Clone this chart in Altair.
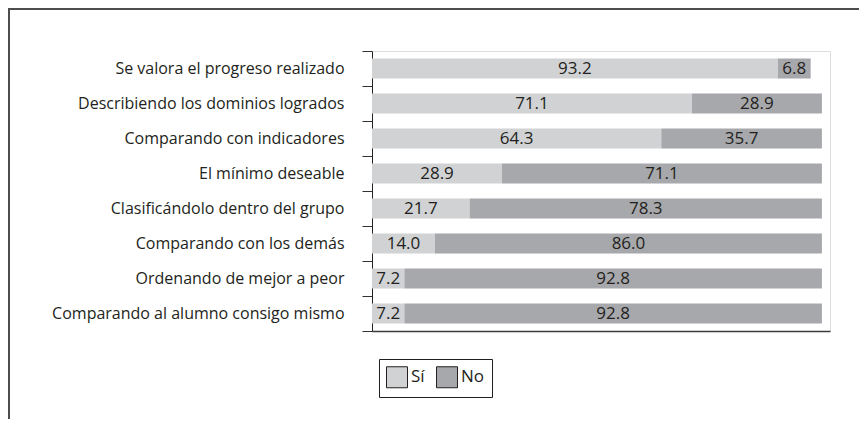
import altair as alt
import pandas as pd

categories = [
    "Se valora el progreso realizado",
    "Describiendo los dominios logrados",
    "Comparando con indicadores",
    "El mínimo deseable",
    "Clasificándolo dentro del grupo",
    "Comparando con los demás",
    "Ordenando de mejor a peor",
    "Comparando al alumno consigo mismo",
]
series = ["Sí", "No"]
# printed labels
si_labels = [93.2, 71.1, 64.3, 28.9, 21.7, 14.0, 7.2, 7.2]
no_labels = [6.8, 28.9, 35.7, 71.1, 78.3, 86.0, 92.8, 92.8]
# bar lengths as drawn in the picture
si_bars = [90.2, 71.1, 64.3, 28.9, 21.7, 14.0, 7.2, 7.2]
no_bars = [7.3, 28.9, 35.7, 71.1, 78.3, 86.0, 92.8, 92.8]
colors = ["#d1d2d4", "#a7a8ab"]

rows = []
for i, c in enumerate(categories):
    rows.append({"cat": c, "serie": "Sí", "ord": 0, "value": si_bars[i], "label": f"{si_labels[i]:.1f}"})
    rows.append({"cat": c, "serie": "No", "ord": 1, "value": no_bars[i], "label": f"{no_labels[i]:.1f}"})
df = pd.DataFrame(rows)

FONT = "Open Sans"
FS = 16
TXT = "#231f20"

base = alt.Chart(df).transform_stack(
    stack="value", as_=["x0", "x1"], groupby=["cat"], sort=[alt.SortField("ord")]
).transform_calculate(mid="(datum.x0 + datum.x1) / 2")

xscale = alt.Scale(domain=[0, 101.8], nice=False, zero=False)
yenc = alt.Y(
    "cat:N",
    sort=categories,
    scale=alt.Scale(paddingInner=0, paddingOuter=0),
    axis=alt.Axis(
        title=None,
        labelFont=FONT,
        labelFontSize=FS,
        labelColor=TXT,
        tickSize=10,
        tickColor="#333333",
        domainColor="#222222",
        tickBand="extent",
        labelPadding=18,
        labelLimit=400,
    ),
)

bars = base.mark_bar(height={"band": 0.57}).encode(
    x=alt.X(
        "x0:Q",
        scale=xscale,
        axis=alt.Axis(
            title=None, labels=False, ticks=False, grid=False,
            domainColor="#3c3c3c", domainWidth=1.5,
        ),
    ),
    x2="x1:Q",
    y=yenc,
    color=alt.Color(
        "serie:N",
        scale=alt.Scale(domain=series, range=colors),
        legend=alt.Legend(
            title=None,
            orient="none",
            legendX=7,
            legendY=308,
            direction="horizontal",
            strokeColor=TXT,
            padding=7,
            symbolType="square",
            symbolSize=441,
            symbolStrokeColor=TXT,
            symbolStrokeWidth=1,
            symbolOpacity=1,
            labelFont=FONT,
            labelFontSize=17,
            labelColor=TXT,
            labelOffset=3,
            columnPadding=9,
        ),
    ),
)

labels = base.mark_text(font=FONT, fontSize=17, color=TXT, baseline="middle").encode(
    x=alt.X("mid:Q", scale=xscale),
    y=alt.Y("cat:N", sort=categories),
    text="label:N",
)

border = alt.Chart(pd.DataFrame({"a": [0]})).mark_rect(
    fill="transparent", stroke="#4d4d4d", strokeWidth=2
).encode(
    x=alt.value(-363), x2=alt.value(900), y=alt.value(-42), y2=alt.value(600)
)

chart = alt.layer(border, bars, labels).properties(
    width=458,
    height=280,
    autosize=alt.AutoSizeParams(type="none"),
    padding={"left": 364, "top": 43, "right": 29, "bottom": 88},
).configure_view(stroke="#3c3c3c", strokeWidth=1.5).configure(background="white")

chart.save("out.html", embed_options={"renderer": "svg", "actions": False})
